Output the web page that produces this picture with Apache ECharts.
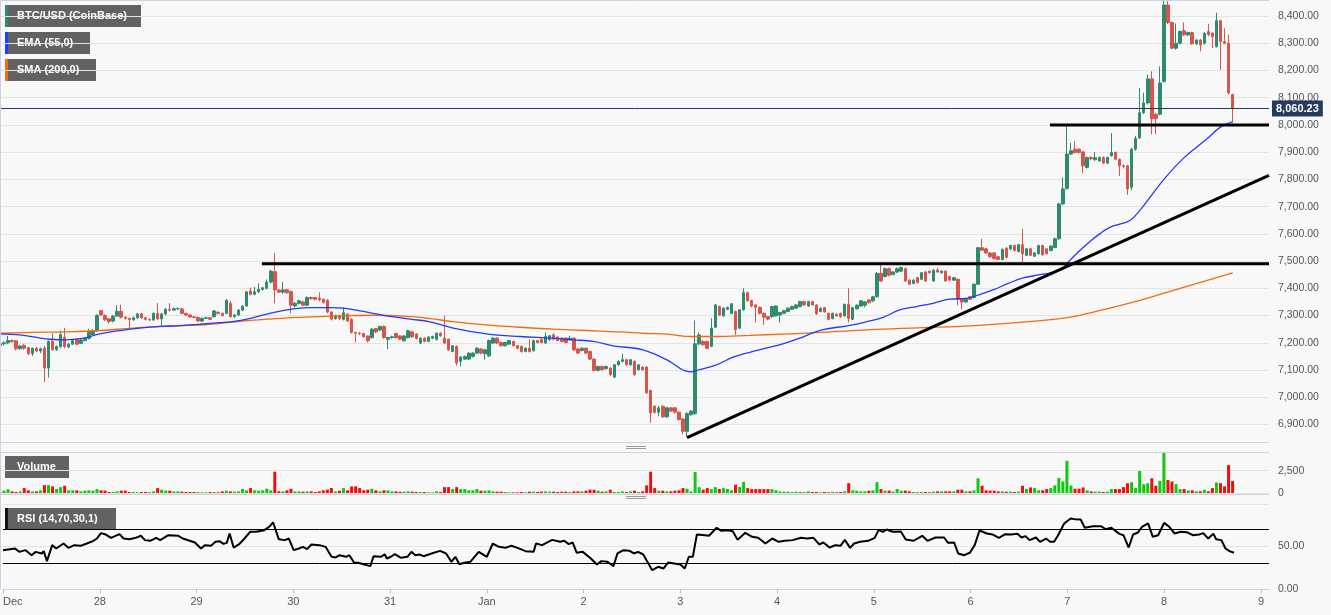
<!DOCTYPE html>
<html><head><meta charset="utf-8">
<script src="https://cdn.jsdelivr.net/npm/echarts@6/dist/echarts.min.js"></script>
<style>html,body{margin:0;padding:0;background:#f8f8f8}#c{width:1331px;height:615px}</style>
</head><body><div id="c"></div><script>
// Hourly BTC/USD candles from 2019-12-27 00:00, [open, close, low, high]
const dayLabels = ['Dec','28','29','30','31','Jan','2','3','4','5','6','7','8','9'];
const candles = [
[7190,7196,7185,7200],[7196,7200,7190,7205],[7200,7208,7195,7225],[7208,7205,7200,7212],[7207,7178,7172,7210],[7178,7188,7175,7192],
[7190,7180,7174,7195],[7182,7160,7155,7185],[7160,7180,7152,7182],[7180,7170,7165,7185],[7170,7178,7162,7182],[7180,7107,7056,7190],
[7107,7205,7072,7208],[7205,7175,7170,7235],[7175,7186,7170,7190],[7186,7230,7180,7245],[7220,7186,7180,7255],[7185,7195,7180,7200],
[7195,7208,7192,7212],[7212,7195,7190,7215],[7198,7210,7195,7215],[7208,7216,7205,7220],[7216,7243,7212,7252],[7230,7245,7226,7250],
[7245,7300,7240,7305],[7318,7302,7298,7320],[7300,7285,7280,7305],[7288,7278,7270,7292],[7280,7298,7275,7302],[7298,7316,7295,7338],
[7315,7294,7290,7340],[7294,7290,7285,7298],[7290,7285,7250,7292],[7285,7292,7280,7296],[7292,7306,7288,7310],[7306,7292,7288,7310],
[7292,7286,7282,7295],[7286,7284,7280,7290],[7284,7308,7280,7312],[7308,7288,7284,7345],[7288,7306,7258,7310],[7306,7323,7300,7328],
[7323,7320,7315,7345],[7320,7325,7318,7330],[7325,7326,7320,7330],[7324,7308,7305,7328],[7308,7302,7298,7310],[7302,7295,7292,7305],
[7295,7293,7290,7298],[7293,7280,7278,7296],[7280,7290,7276,7292],[7290,7292,7287,7296],[7292,7286,7284,7295],[7296,7317,7292,7320],
[7312,7308,7304,7316],[7308,7300,7296,7312],[7308,7356,7305,7360],[7344,7296,7292,7354],[7296,7302,7292,7306],[7302,7320,7298,7324],
[7320,7334,7316,7338],[7335,7387,7332,7390],[7390,7378,7374,7402],[7378,7387,7374,7405],[7387,7396,7383,7418],[7396,7402,7392,7405],
[7400,7423,7396,7433],[7423,7463,7418,7468],[7461,7394,7345,7530],[7394,7386,7383,7398],[7386,7394,7380,7423],[7395,7384,7380,7398],
[7388,7338,7308,7392],[7335,7345,7330,7350],[7345,7354,7340,7358],[7350,7338,7334,7355],[7338,7366,7334,7370],[7366,7362,7358,7370],
[7366,7360,7355,7368],[7364,7358,7352,7385],[7360,7348,7344,7362],[7356,7313,7308,7360],[7313,7287,7282,7316],[7289,7300,7285,7304],
[7300,7289,7285,7303],[7286,7310,7282,7329],[7305,7280,7276,7308],[7286,7238,7234,7290],[7238,7235,7201,7240],[7235,7234,7228,7240],
[7234,7222,7218,7237],[7225,7207,7201,7228],[7219,7250,7215,7254],[7252,7240,7236,7255],[7247,7260,7243,7263],[7260,7219,7215,7264],
[7213,7219,7177,7222],[7219,7222,7215,7226],[7234,7219,7215,7237],[7225,7213,7210,7228],[7207,7225,7204,7228],[7219,7244,7216,7248],
[7240,7222,7218,7244],[7232,7216,7212,7235],[7199,7217,7195,7220],[7217,7205,7202,7220],[7205,7221,7202,7224],[7217,7223,7213,7226],
[7213,7235,7208,7238],[7235,7226,7222,7238],[7217,7199,7195,7300],[7213,7174,7170,7216],[7168,7189,7165,7192],[7187,7126,7116,7190],
[7132,7148,7113,7150],[7140,7150,7136,7153],[7140,7162,7137,7165],[7150,7162,7146,7165],[7162,7180,7158,7184],[7177,7162,7158,7180],
[7160,7174,7138,7178],[7152,7208,7148,7212],[7199,7217,7195,7220],[7217,7199,7195,7221],[7201,7189,7186,7204],[7189,7201,7186,7204],
[7195,7208,7192,7211],[7205,7189,7186,7208],[7189,7180,7176,7192],[7187,7168,7164,7190],[7168,7180,7165,7183],[7180,7168,7164,7213],
[7171,7208,7168,7211],[7208,7201,7198,7211],[7213,7201,7198,7216],[7199,7223,7196,7238],[7211,7226,7208,7229],[7229,7213,7210,7235],
[7221,7208,7205,7224],[7217,7205,7202,7220],[7217,7201,7198,7220],[7211,7217,7208,7226],[7217,7174,7170,7220],[7177,7162,7158,7180],
[7172,7180,7168,7183],[7180,7162,7158,7183],[7168,7140,7136,7171],[7140,7099,7095,7143],[7099,7113,7095,7116],[7113,7101,7098,7116],
[7105,7113,7102,7116],[7107,7083,7079,7110],[7074,7119,7070,7122],[7119,7132,7116,7135],[7132,7138,7128,7160],[7138,7119,7116,7140],
[7119,7138,7116,7141],[7132,7083,7079,7135],[7101,7119,7098,7122],[7111,7101,7098,7114],[7111,7016,7012,7114],[7025,6942,6906,7028],
[6967,6945,6940,6970],[6945,6961,6930,6968],[6967,6928,6924,6970],[6928,6961,6924,6965],[6961,6949,6945,6964],[6961,6945,6940,6964],
[6945,6918,6914,6948],[6920,6875,6863,6924],[6875,6940,6855,6945],[6936,6949,6932,6952],[6940,7196,6936,7282],[7196,7229,7190,7238],
[7205,7193,7190,7210],[7205,7180,7176,7208],[7187,7254,7184,7290],[7257,7339,7254,7343],[7333,7302,7298,7336],[7299,7327,7296,7330],
[7323,7330,7320,7333],[7308,7343,7305,7346],[7315,7248,7229,7318],[7254,7321,7250,7324],[7321,7384,7318,7400],[7384,7355,7350,7388],
[7355,7335,7330,7358],[7339,7330,7274,7342],[7330,7308,7304,7333],[7308,7294,7266,7311],[7296,7287,7283,7299],[7296,7333,7292,7336],
[7299,7335,7296,7338],[7302,7311,7274,7314],[7308,7318,7305,7321],[7315,7327,7312,7330],[7323,7333,7320,7336],[7327,7339,7324,7342],
[7333,7351,7330,7354],[7351,7339,7336,7354],[7335,7351,7332,7354],[7351,7339,7336,7354],[7339,7306,7302,7342],[7315,7327,7312,7330],
[7329,7313,7310,7332],[7308,7286,7282,7311],[7289,7308,7286,7311],[7305,7299,7296,7308],[7308,7296,7292,7311],[7299,7341,7296,7344],
[7341,7289,7274,7400],[7286,7329,7283,7332],[7325,7338,7322,7341],[7335,7354,7332,7357],[7338,7350,7330,7353],[7357,7347,7344,7360],
[7354,7369,7350,7372],[7369,7455,7366,7460],[7455,7427,7424,7488],[7443,7472,7440,7476],[7472,7448,7444,7476],[7451,7460,7448,7463],
[7460,7472,7456,7476],[7463,7476,7460,7480],[7472,7427,7424,7476],[7430,7415,7412,7433],[7418,7430,7415,7433],[7439,7421,7418,7442],
[7433,7457,7430,7460],[7460,7427,7424,7463],[7463,7457,7454,7466],[7427,7467,7424,7470],[7467,7460,7457,7476],[7457,7463,7454,7466],
[7463,7427,7424,7466],[7443,7430,7427,7446],[7430,7439,7427,7442],[7433,7360,7338,7436],[7362,7350,7323,7365],[7350,7362,7347,7365],
[7369,7360,7357,7372],[7366,7415,7362,7418],[7415,7549,7412,7552],[7549,7540,7537,7582],[7545,7530,7526,7548],[7530,7516,7512,7533],
[7530,7509,7505,7533],[7516,7506,7503,7519],[7506,7543,7503,7546],[7547,7514,7510,7552],[7545,7557,7540,7560],[7557,7539,7535,7560],
[7535,7560,7532,7563],[7560,7527,7496,7618],[7521,7545,7518,7548],[7545,7521,7518,7548],[7518,7530,7515,7533],[7527,7557,7524,7560],
[7557,7523,7520,7560],[7545,7527,7524,7548],[7539,7555,7536,7558],[7550,7582,7547,7586],[7582,7710,7578,7714],[7710,7765,7706,7807],
[7767,7893,7763,7994],[7893,7905,7890,7935],[7911,7899,7895,7941],[7911,7899,7895,7914],[7901,7850,7823,7904],[7844,7880,7840,7884],
[7880,7876,7870,7885],[7872,7880,7868,7901],[7868,7880,7865,7884],[7880,7860,7856,7884],[7860,7880,7856,7884],[7887,7899,7884,7970],
[7899,7874,7870,7902],[7874,7850,7813,7877],[7850,7848,7840,7855],[7850,7765,7743,7853],[7771,7911,7760,7915],[7911,7950,7905,7960],
[7953,8045,7948,8136],[8045,8081,8040,8118],[8081,8169,8075,8185],[8169,8023,7966,8197],[8039,8023,7966,8045],[8039,8154,8035,8215],
[8160,8440,8155,8458],[8440,8376,8370,8458],[8376,8282,8278,8380],[8282,8300,8276,8373],[8300,8343,8296,8347],[8346,8331,8326,8376],
[8331,8339,8326,8343],[8339,8298,8294,8342],[8298,8312,8294,8315],[8312,8294,8270,8315],[8300,8337,8296,8340],[8343,8331,8326,8371],
[8337,8325,8282,8340],[8288,8383,8284,8412],[8383,8306,8203,8386],[8306,8300,8296,8355],[8300,8118,8112,8331],[8112,8060.23,8011,8115]
];
const volumes = [
110,250,420,180,110,180,550,300,180,180,300,880,880,740,440,660,810,300,300,300,180,260,300,260,
440,300,260,110,110,180,260,260,110,110,75,110,110,75,180,550,370,260,260,184,184,150,110,110,
110,75,75,75,110,110,75,184,260,184,150,184,440,300,550,300,260,300,480,300,2390,184,184,300,
480,184,184,150,184,184,110,184,300,370,550,184,260,550,300,740,740,550,300,370,480,300,184,300,
300,184,184,150,150,184,150,110,110,110,75,75,184,110,660,660,440,660,440,440,300,300,440,260,
260,300,184,150,150,110,75,75,75,110,75,150,150,110,150,184,150,150,110,150,150,110,184,184,
184,260,370,370,260,150,184,370,110,110,184,110,184,260,110,184,850,2390,550,260,260,184,184,260,
300,550,480,184,2350,660,370,550,440,660,440,550,440,300,920,660,1250,550,440,440,440,440,440,440,
300,184,150,150,110,150,110,75,184,110,110,75,110,75,110,75,110,184,1100,300,260,184,184,260,
300,1215,440,260,260,150,440,260,260,184,110,75,110,110,75,150,184,184,184,184,184,370,370,184,
184,300,1650,810,300,260,260,184,184,150,150,110,150,810,440,625,550,300,300,440,550,850,1690,1290,
3600,850,480,480,625,300,184,150,150,110,150,440,440,440,660,1100,1215,550,2470,990,1100,1650,810,1360,
4490,1470,1290,990,440,440,294,294,184,184,368,184,550,1180,1100,740,3130,1360
];
// indicator readings: [hour index, value]
const emaPoints = [[0,7233],[5,7229],[10,7217],[12.4,7213],[16.5,7211],[19.8,7215],[22.3,7223],[24.7,7233],[29.7,7245],[34.6,7254],[39.6,7260],[44.5,7263],[49.5,7268],[54.4,7274],[57,7277],[62,7290],[66.8,7308],[71.8,7323],[76.7,7329],[81.7,7329],[85,7327],[89.1,7317],[94.9,7301],[101.5,7287],[106.4,7277],[112.1,7254],[120.4,7233],[128.6,7223],[136.9,7217],[141.8,7211],[146.8,7205],[151.7,7189],[159.1,7174],[164.9,7138],[170.8,7093],[173.1,7101],[177.3,7119],[181.4,7147],[185.5,7165],[189.6,7180],[193.7,7196],[197.9,7217],[202.8,7245],[210.3,7264],[214.4,7277],[218.5,7293],[222.6,7321],[226.8,7333],[230.9,7345],[235,7360],[239.1,7363],[240.8,7369],[245.7,7394],[249.5,7418],[253,7437],[257.3,7450],[262.2,7466],[264.7,7502],[267.2,7539],[269.7,7572],[272.1,7600],[274.6,7624],[277.1,7636],[279.6,7649],[282,7685],[288,7800],[293,7880],[298.5,7947],[301.8,7990],[304.3,8008],[305.1,8011]];
const smaPoints = [[0,7235],[8,7238],[16.5,7240],[25,7245],[33,7254],[41,7260],[52,7268],[60,7280],[68.5,7289],[76.7,7295],[85,7299],[93,7301],[101.5,7296],[106.4,7289],[112,7278],[120.4,7266],[128.6,7257],[137,7250],[145,7245],[153.4,7240],[160,7234],[165,7232],[171,7223],[177,7223],[185.5,7227],[193.7,7232],[203,7238],[218.5,7250],[240,7262],[250,7272],[264,7292],[272,7318],[282,7356],[292,7400],[305,7457]];
const rsiPoints = [[0,45.7],[3,47.7],[4,43.7],[5.6,45.7],[7.1,39.8],[8.1,43.7],[9.6,41.8],[10.1,44.5],[10.9,32.8],[12.2,51.6],[13.2,47.7],[15,53.5],[16.2,48.4],[17.7,51.6],[19.2,50.8],[20.8,53.5],[22.3,56.3],[23.3,59.4],[24.3,65.7],[25.3,64.5],[26.8,60.2],[28.9,64.5],[29.9,59.4],[31.4,58.6],[32.9,60.2],[34.2,62.6],[35.2,57.5],[36.5,56.7],[38,60.2],[39,57.5],[41,63.3],[43.5,62.6],[44.6,59.4],[47.6,54.7],[49.1,47.7],[50.1,51.6],[51.6,50.8],[52.7,55.5],[53.7,56.3],[54.7,53.1],[55.5,54.3],[56.2,65.3],[57.2,48.8],[58.5,52.4],[59.9,59.4],[61.3,67.3],[62.8,67.3],[64.8,69.2],[66,73.1],[67,78.2],[68.4,58.6],[69.9,57.5],[70.9,59.4],[72.1,45.7],[73.4,47.7],[74.4,49.6],[75.4,46.9],[76.5,52.4],[78.5,51.6],[80,49.6],[81.5,37.9],[82.5,37.1],[83.5,39.8],[85.1,37.9],[85.9,39.8],[87.1,30.8],[88.1,30.8],[89.6,28.8],[91.1,26.9],[91.9,38.6],[93.7,37.9],[94.7,40.6],[95.2,35.9],[96.2,37.9],[97.2,41.0],[98.7,36.7],[100.3,37.9],[101.3,43.7],[102.3,39.8],[103.3,40.6],[104.3,38.6],[106.3,41.8],[108.4,44.9],[109.9,41.8],[111.2,32.0],[112.2,37.9],[113.2,29.2],[114.4,30.8],[115.9,32.0],[118,43.7],[120,37.9],[121.5,53.5],[123,49.6],[124.6,48.4],[126.1,50.8],[127.6,48.4],[129.6,44.5],[131.6,43.7],[132.2,53.5],[133.7,51.6],[136.2,57.8],[138.2,55.5],[139.2,56.7],[140.3,52.8],[141.3,54.7],[142.3,42.6],[143.8,43.7],[145.8,35.9],[147.3,28.8],[148.4,32.8],[149.9,32.0],[151.4,26.9],[152.4,41.8],[153.9,45.7],[155.4,44.9],[156.5,41.8],[157.5,43.7],[158.8,40.6],[161,22.2],[162.5,26.1],[163.8,24.1],[165,31.2],[166.5,30.0],[168,28.8],[169.1,24.1],[170.1,37.9],[171.1,37.9],[172.1,64.1],[174.1,63.3],[175.1,62.6],[177,72.0],[178.2,68.4],[179.7,69.2],[181,68.0],[182.2,57.8],[184.1,66.1],[185.8,61.4],[187.3,60.2],[189.1,53.5],[190.8,59.4],[192.4,55.5],[193.9,56.7],[195.9,57.5],[197.9,60.2],[199.4,59.4],[201,60.2],[202.5,52.4],[203.5,54.7],[205,48.8],[206.5,51.6],[207.7,50.8],[208.8,57.8],[210.1,48.4],[211.1,53.5],[212.6,55.5],[214.6,56.7],[216.2,60.2],[217.2,69.6],[218.2,67.3],[219.2,70.0],[220.7,67.3],[222.7,67.6],[223.9,58.2],[225.8,56.7],[228,62.6],[229.3,56.7],[231.3,60.6],[233.4,60.6],[234.4,54.3],[235.9,54.7],[236.9,41.8],[238.4,39.8],[239.8,42.6],[241,51.6],[242.2,68.8],[244,65.3],[245.5,64.1],[247,60.2],[248.6,64.5],[250.1,64.1],[251.6,64.9],[252.6,60.6],[253.6,62.2],[254.6,57.5],[256.2,60.6],[257.2,55.5],[258.7,59.4],[259.7,55.5],[260.7,55.5],[261.7,63.3],[263.2,77.1],[264.8,82.9],[265.8,82.2],[267.3,81.8],[268.3,72.0],[270.3,73.9],[272.4,73.9],[273.4,70.4],[274.9,72.0],[276.9,64.9],[277.9,63.3],[279.2,48.8],[280.3,64.1],[281.5,66.5],[282.5,73.1],[284,77.1],[285.2,61.4],[286.5,63.3],[288,77.8],[289.1,73.9],[290.6,65.3],[292.1,67.3],[293.6,66.9],[295.1,63.3],[296.7,64.1],[297.7,65.7],[298.9,59.4],[300.2,64.9],[300.9,58.6],[302.2,57.5],[303.2,47.7],[304.2,44.5],[305.3,42.6]];
const lastPrice = 8060.23;
// drawn support / resistance / trend lines: [[hour, price], [hour, price]]
const resistance7490 = [[64.8,7490],[314,7490]];
const resistance8000 = [[259.8,8000],[314,8000]];
const trendLine = [[170,6852],[314,7815]];

const TOTAL = 315; // hourly slots on the axis (Dec 27 00:00 .. Jan 9 02:00)
const hours = Array.from({length: TOTAL}, (_, i) => i);
const UP = '#2e8b6e', DOWN = '#d9544a';
const FONT = '"Liberation Sans", Arial, sans-serif';
const fmt2 = v => v.toLocaleString('en-US', {minimumFractionDigits: 2, maximumFractionDigits: 2});
const volData = volumes.map((v, i) => ({value: v, itemStyle: {color: candles[i][1] >= candles[i][0] ? '#10c810' : '#f20c0c'}}));

const chart = echarts.init(document.getElementById('c'), null, {renderer: 'canvas'});
const W = 1269;
function legendBox(x, y, w, label, strip) {
  const ch = [{type: 'rect', shape: {x: 0, y: 0, width: w, height: 22}, style: {fill: '#626262'}},
    {type: 'text', x: 12, y: 11, style: {text: label, fill: '#fff', font: 'bold 11px ' + FONT, verticalAlign: 'middle'}}];
  if (strip) ch.splice(1, 0, {type: 'rect', shape: {x: 0, y: 0, width: 3, height: 22}, style: {fill: strip}});
  return {type: 'group', x: x, y: y, children: ch, z: 100};
}
const gripLine = (y) => ({type: 'line', shape: {x1: 626, y1: y, x2: 646, y2: y}, style: {stroke: '#9a9a9a', lineWidth: 1}, z: 100});
const borderColor = '#cdd1e3';
chart.setOption({
  animation: false,
  backgroundColor: '#f8f8f8',
  textStyle: {fontFamily: FONT},
  grid: [
    {left: 0, top: 0, width: W, height: 442},
    {left: 0, top: 452, width: W, height: 41},
    {left: 0, top: 504, width: W, height: 85}
  ],
  xAxis: [
    {type: 'category', gridIndex: 0, data: hours, boundaryGap: false, axisLine: {show: false}, axisTick: {show: false}, axisLabel: {show: false}, splitLine: {show: false}},
    {type: 'value', gridIndex: 0, min: 0, max: TOTAL - 1, show: false},
    {type: 'category', gridIndex: 1, data: hours, boundaryGap: false, axisLine: {show: false}, axisTick: {show: false}, axisLabel: {show: false}},
    {type: 'value', gridIndex: 2, min: 0, max: TOTAL - 1, interval: 24,
      axisLine: {show: true, lineStyle: {color: borderColor}},
      axisTick: {show: true, length: 4, lineStyle: {color: '#b8bccc'}},
      splitLine: {show: false},
      axisLabel: {color: '#555', fontSize: 11, margin: 7, showMaxLabel: false, alignMinLabel: 'left',
        formatter: v => (v % 24 === 0 && dayLabels[v / 24] !== undefined) ? dayLabels[v / 24] : ''}}
  ],
  yAxis: [
    {type: 'value', gridIndex: 0, position: 'right', min: 6835.6, max: 8458.8, splitNumber: 16,
      axisLine: {show: false}, axisTick: {show: false},
      axisLabel: {color: '#555', fontSize: 10.5, margin: 9, showMinLabel: false, showMaxLabel: false, formatter: fmt2},
      splitLine: {lineStyle: {color: '#e4e4e4'}}},
    {type: 'value', gridIndex: 1, position: 'right', min: 0, max: 4600, interval: 2500,
      axisLine: {show: false}, axisTick: {show: false},
      axisLabel: {color: '#555', fontSize: 10.5, margin: 9, showMaxLabel: false, formatter: v => v.toLocaleString('en-US')},
      splitLine: {lineStyle: {color: '#e4e4e4'}}},
    {type: 'value', gridIndex: 2, position: 'right', min: 0, max: 100, interval: 50,
      axisLine: {show: false}, axisTick: {show: false},
      axisLabel: {color: '#555', fontSize: 10.5, margin: 9, showMaxLabel: false, formatter: fmt2},
      splitLine: {lineStyle: {color: '#e4e4e4'}}}
  ],
  series: [
    {type: 'candlestick', xAxisIndex: 0, yAxisIndex: 0, data: candles, barWidth: 3, z: 2,
      itemStyle: {color: UP, color0: DOWN, borderColor: UP, borderColor0: DOWN, borderWidth: 1},
      markLine: {silent: true, symbol: ['none', 'none'], animation: false,
        lineStyle: {color: '#253b5c', width: 1, type: 'solid'},
        label: {position: 'end', formatter: () => fmt2(lastPrice), backgroundColor: '#253b5c', color: '#fff', fontWeight: 'bold', fontSize: 11, padding: [3, 4, 2, 4], distance: 3},
        data: [{yAxis: lastPrice}]}},
    {type: 'line', name: 'SMA', xAxisIndex: 1, yAxisIndex: 0, data: smaPoints, symbol: 'none', smooth: 0.4, lineStyle: {color: '#f26b0f', width: 1.3}, z: 3},
    {type: 'line', name: 'EMA', xAxisIndex: 1, yAxisIndex: 0, data: emaPoints, symbol: 'none', smooth: 0.4, lineStyle: {color: '#1f3cff', width: 1.3}, z: 4},
    {type: 'line', xAxisIndex: 1, yAxisIndex: 0, data: resistance7490, symbol: 'none', lineStyle: {color: '#000', width: 3}, z: 5},
    {type: 'line', xAxisIndex: 1, yAxisIndex: 0, data: resistance8000, symbol: 'none', lineStyle: {color: '#000', width: 3}, z: 5},
    {type: 'line', xAxisIndex: 1, yAxisIndex: 0, data: trendLine, symbol: 'none', lineStyle: {color: '#000', width: 3}, z: 5},
    {type: 'bar', xAxisIndex: 2, yAxisIndex: 1, data: volData, barWidth: 3},
    {type: 'line', xAxisIndex: 3, yAxisIndex: 2, data: rsiPoints, symbol: 'none', lineStyle: {color: '#000', width: 2},
      markLine: {silent: true, symbol: ['none', 'none'], label: {show: false}, lineStyle: {color: '#000', width: 1, type: 'solid'}, data: [{yAxis: 70}, {yAxis: 30}]}}
  ],
  graphic: [
    {type: 'line', shape: {x1: 0, y1: 0.5, x2: W, y2: 0.5}, style: {stroke: borderColor}, z: 90},
    {type: 'line', shape: {x1: 0.5, y1: 0, x2: 0.5, y2: 589}, style: {stroke: borderColor}, z: 90},
    {type: 'line', shape: {x1: 0, y1: 442.5, x2: W, y2: 442.5}, style: {stroke: borderColor}, z: 90},
    {type: 'line', shape: {x1: 0, y1: 452.5, x2: W, y2: 452.5}, style: {stroke: borderColor}, z: 90},
    {type: 'line', shape: {x1: 0, y1: 494.5, x2: W, y2: 494.5}, style: {stroke: borderColor}, z: 90},
    gripLine(446.5), gripLine(448.5), gripLine(496.5), gripLine(498.5),
    legendBox(5, 5, 136, 'BTC/USD (CoinBase)', UP),
    legendBox(5, 32, 85, 'EMA (55,0)', '#1f3cff'),
    legendBox(5, 59, 91, 'SMA (200,0)', '#f26b0f'),
    legendBox(5, 456, 64, 'Volume', null),
    legendBox(5, 508, 111, 'RSI (14,70,30,1)', '#111')
  ]
});
</script></body></html>
